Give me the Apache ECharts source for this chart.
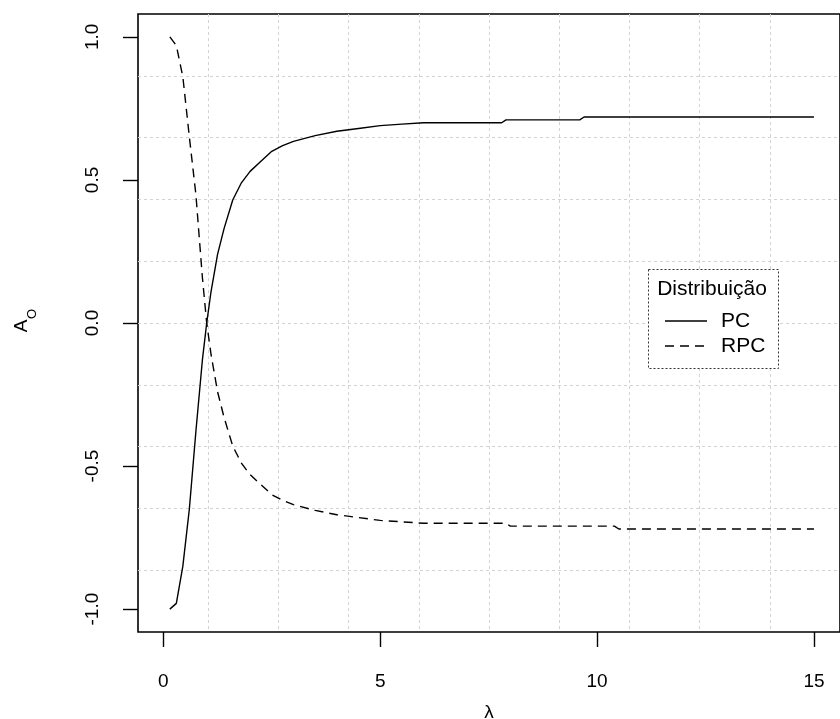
<!DOCTYPE html>
<html>
<head>
<meta charset="utf-8">
<script src="https://cdn.jsdelivr.net/npm/echarts@6/dist/echarts.min.js"></script>
<style>html,body{margin:0;padding:0;background:#fff;}#c{width:840px;height:719px;}</style>
</head>
<body>
<div id="c"></div>
<script>
// ---- data ----
const pcLambda  = [0.15, 0.3, 0.45, 0.6, 0.75, 0.9, 1.0, 1.1, 1.25, 1.4, 1.6, 1.8, 2.0, 2.25, 2.5, 2.75, 3.0, 3.5, 4.0, 4.5, 5.0, 5.5, 6.0, 7.8, 7.9, 9.6, 9.7, 15];
const pcValues  = [-1.0, -0.98, -0.85, -0.65, -0.38, -0.13, 0.0, 0.11, 0.24, 0.33, 0.43, 0.49, 0.53, 0.565, 0.60, 0.62, 0.635, 0.655, 0.67, 0.68, 0.69, 0.695, 0.70, 0.70, 0.71, 0.71, 0.72, 0.72];
const rpcLambda = [0.15, 0.3, 0.45, 0.6, 0.75, 0.9, 1.0, 1.1, 1.25, 1.4, 1.6, 1.8, 2.0, 2.25, 2.5, 2.75, 3.0, 3.5, 4.0, 4.5, 5.0, 5.5, 6.0, 7.9, 8.0, 10.4, 10.5, 15];
const rpcValues = [1.0, 0.97, 0.86, 0.65, 0.45, 0.16, 0.0, -0.11, -0.24, -0.33, -0.43, -0.49, -0.53, -0.565, -0.60, -0.62, -0.635, -0.655, -0.67, -0.68, -0.69, -0.695, -0.70, -0.70, -0.71, -0.71, -0.72, -0.72];
const xTicks = [0, 5, 10, 15];
const yTicks = [-1.0, -0.5, 0.0, 0.5, 1.0];
const seriesNames = ['PC', 'RPC'];
const legendTitle = 'Distribuição';
const xTitle = 'λ';

const FONT = 'Liberation Sans, Arial, sans-serif';
const FS = 19;
const LFS = 21;

const chart = echarts.init(document.getElementById('c'), null, {renderer: 'canvas'});
const zip = (xs, ys) => xs.map((x, i) => [x, ys[i]]);

const option = {
  animation: false,
  backgroundColor: '#fff',
  grid: {left: 138, top: 14, width: 712, height: 618, show: true, borderColor: '#000', borderWidth: 1.6, backgroundColor: 'transparent', containLabel: false},
  xAxis: [
    {type: 'value', min: -0.584, max: 15.6, position: 'bottom',
     axisLine: {show: false, onZero: false},
     axisTick: {show: true, length: 15, lineStyle: {color: '#000', width: 1.4}, customValues: xTicks},
     axisLabel: {show: true, margin: 40, color: '#000', fontSize: FS, fontFamily: FONT, customValues: xTicks, formatter: v => String(v)},
     splitLine: {show: false}},
    {type: 'value', min: 0, max: 10, interval: 1, position: 'top',
     axisLine: {show: false, onZero: false}, axisTick: {show: false}, axisLabel: {show: false},
     splitLine: {show: true, showMinLine: false, showMaxLine: false, lineStyle: {color: '#d3d3d3', width: 1, type: [3, 3]}}}
  ],
  yAxis: [
    {type: 'value', min: -1.08, max: 1.08, position: 'left',
     axisLine: {show: false, onZero: false},
     axisTick: {show: true, length: 15, lineStyle: {color: '#000', width: 1.4}, customValues: yTicks},
     axisLabel: {show: true, margin: 36, rotate: 90, color: '#000', fontSize: FS, fontFamily: FONT, customValues: yTicks, formatter: v => v.toFixed(1)},
     splitLine: {show: false}},
    {type: 'value', min: 0, max: 10, interval: 1, position: 'right',
     axisLine: {show: false, onZero: false}, axisTick: {show: false}, axisLabel: {show: false},
     splitLine: {show: true, showMinLine: false, showMaxLine: false, lineStyle: {color: '#d3d3d3', width: 1, type: [3, 3]}}}
  ],
  series: [
    {name: seriesNames[0], type: 'line', xAxisIndex: 0, yAxisIndex: 0, data: zip(pcLambda, pcValues), showSymbol: false, smooth: false,
     lineStyle: {color: '#000', width: 1.4, type: 'solid'}, z: 5},
    {name: seriesNames[1], type: 'line', xAxisIndex: 0, yAxisIndex: 0, data: zip(rpcLambda, rpcValues), showSymbol: false, smooth: false,
     lineStyle: {color: '#000', width: 1.4, type: [9, 6]}, z: 5}
  ],
  graphic: [
    {type: 'text', x: 489, y: 713, style: {text: xTitle, fontSize: FS, fontFamily: FONT, fill: '#000', align: 'center', verticalAlign: 'middle'}},
    {type: 'group', x: 22, y: 326, rotation: Math.PI / 2, children: [
      {type: 'text', x: 0, y: 0, style: {text: 'A', fontSize: FS, fontFamily: FONT, fill: '#000', align: 'center', verticalAlign: 'middle'}},
      {type: 'text', x: 12, y: 10, style: {text: 'O', fontSize: 13, fontFamily: FONT, fill: '#000', align: 'center', verticalAlign: 'middle'}}
    ]},
    {type: 'rect', shape: {x: 648.5, y: 269.5, width: 130, height: 99}, style: {fill: '#fff', stroke: '#333', lineWidth: 1, lineDash: [2, 2]}, z: 10},
    {type: 'text', x: 712, y: 289, style: {text: legendTitle, fontSize: LFS, fontFamily: FONT, fill: '#000', align: 'center', verticalAlign: 'middle'}, z: 11},
    {type: 'line', shape: {x1: 665, y1: 321, x2: 707, y2: 321}, style: {stroke: '#000', lineWidth: 1.4}, z: 11},
    {type: 'text', x: 721, y: 321, style: {text: seriesNames[0], fontSize: LFS, fontFamily: FONT, fill: '#000', align: 'left', verticalAlign: 'middle'}, z: 11},
    {type: 'line', shape: {x1: 665, y1: 346, x2: 707, y2: 346}, style: {stroke: '#000', lineWidth: 1.4, lineDash: [9, 6]}, z: 11},
    {type: 'text', x: 721, y: 346, style: {text: seriesNames[1], fontSize: LFS, fontFamily: FONT, fill: '#000', align: 'left', verticalAlign: 'middle'}, z: 11}
  ]
};
chart.setOption(option);
</script>
</body>
</html>
